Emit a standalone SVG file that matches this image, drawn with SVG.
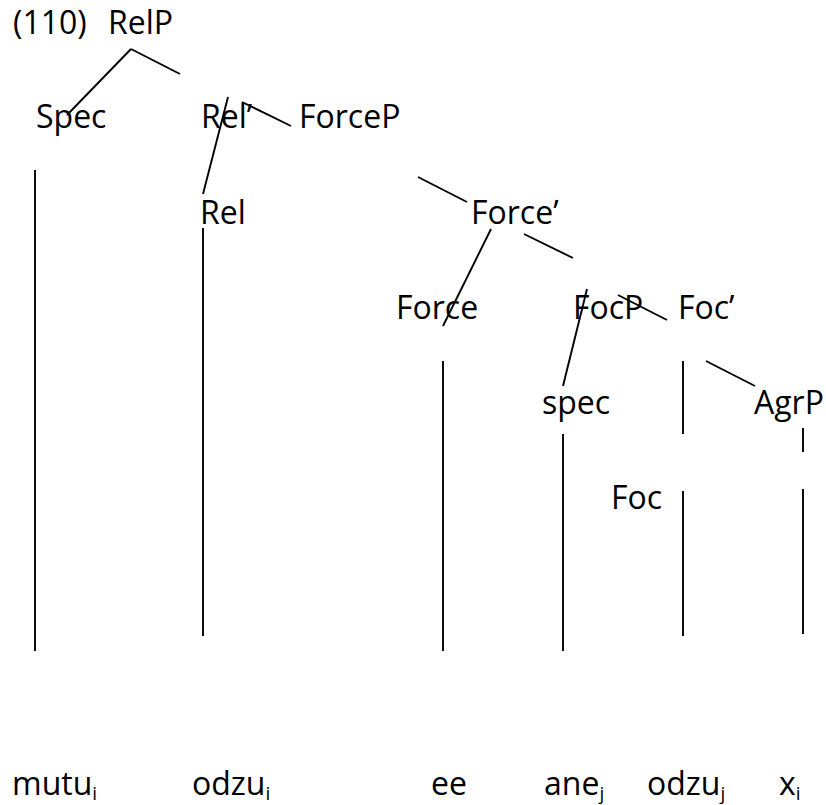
<svg xmlns="http://www.w3.org/2000/svg" width="826" height="805" viewBox="0 0 826 805">
<style>
text{font-family:"Open Sans","Noto Sans","Liberation Sans",sans-serif;font-size:32px;fill:#000}
.sub{font-size:19px}
line{stroke:#000;stroke-width:1.9}
</style>
<rect width="826" height="805" fill="#fff"/>
<g id="edges">
<line x1="131" y1="49" x2="67" y2="115"/>
<line x1="131" y1="49" x2="180" y2="74"/>
<line x1="228" y1="97" x2="203" y2="194"/>
<line x1="242" y1="102" x2="291" y2="126"/>
<line x1="35" y1="170" x2="35" y2="651"/>
<line x1="203" y1="228" x2="203" y2="636"/>
<line x1="418" y1="177" x2="467" y2="202"/>
<line x1="491" y1="229" x2="443" y2="326"/>
<line x1="524" y1="234" x2="573" y2="258"/>
<line x1="587" y1="289" x2="563" y2="386"/>
<line x1="618" y1="295" x2="667" y2="320"/>
<line x1="443" y1="361" x2="443" y2="651"/>
<line x1="683" y1="361" x2="683" y2="434"/>
<line x1="683" y1="491" x2="683" y2="636"/>
<line x1="706" y1="361" x2="755" y2="386"/>
<line x1="563" y1="434" x2="563" y2="651"/>
<line x1="803" y1="428" x2="803" y2="452"/>
<line x1="803" y1="489" x2="803" y2="634"/>
</g>
<g id="n-label"><text x="13" y="34">(110)</text></g>
<g id="n-RelP"><text x="108" y="34">RelP</text></g>
<g id="n-Spec"><text x="36" y="128">Spec</text></g>
<g id="n-RelBar"><text x="201" y="128">Rel’</text></g>
<g id="n-ForceP"><text x="299" y="128">ForceP</text></g>
<g id="n-Rel"><text x="200" y="224">Rel</text></g>
<g id="n-ForceBar"><text x="471" y="224">Force’</text></g>
<g id="n-Force"><text x="396" y="319">Force</text></g>
<g id="n-FocP"><text x="573" y="319">FocP</text></g>
<g id="n-FocBar"><text x="678" y="319">Foc’</text></g>
<g id="n-spec"><text x="542" y="414">spec</text></g>
<g id="n-AgrP"><text x="754" y="414">AgrP</text></g>
<g id="n-Foc"><text x="611" y="509">Foc</text></g>
<g id="n-mutu"><text x="12" y="795">mutu<tspan class="sub" dy="5">i</tspan></text></g>
<g id="n-odzu1"><text x="192" y="795">odzu<tspan class="sub" dy="5">i</tspan></text></g>
<g id="n-ee"><text x="431" y="795">ee</text></g>
<g id="n-ane"><text x="544" y="795">ane<tspan class="sub" dy="5">j</tspan></text></g>
<g id="n-odzu2"><text x="647" y="795">odzu<tspan class="sub" dy="5">j</tspan></text></g>
<g id="n-x"><text x="779" y="795">x<tspan class="sub" dy="5">i</tspan></text></g>
</svg>
